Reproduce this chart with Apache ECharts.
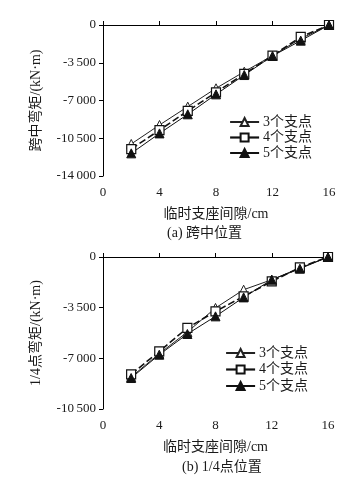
<!DOCTYPE html>
<html><head><meta charset="utf-8">
<script src="https://cdn.jsdelivr.net/npm/echarts@6/dist/echarts.min.js"></script>
<style>html,body{margin:0;padding:0;background:#fff}#c{width:340px;height:480px}</style>
</head><body><div id="c"></div>
<script>
const gaps = [2, 4, 6, 8, 10, 12, 14, 16];
const seriesNames = ['3个支点', '4个支点', '5个支点'];
// (a) 跨中位置
const midS3 = [-11030, -9270, -7570, -5870, -4330, -2840, -1270, 0];
const midS4 = [-11500, -9740, -7970, -6240, -4540, -2840, -1110, 0];
const midS5 = [-11900, -10050, -8280, -6430, -4640, -2870, -1450, 0];
// (b) 1/4点位置
const qS3 = [-8290, -6680, -5180, -3520, -2260, -1570, -760, 0];
const qS4 = [-8110, -6520, -4900, -3760, -2720, -1690, -720, 0];
const qS5 = [-8360, -6750, -5320, -4100, -2790, -1570, -810, 0];
const xTicks = [0, 4, 8, 12, 16];
const yTicksTop = [0, -3500, -7000, -10500, -14000];
const yTicksBot = [0, -3500, -7000, -10500];

const serif = '"Liberation Serif","Times New Roman","Noto Sans CJK SC",serif';
const txt = '#1a1a1a';
const fmtY = v => {
  const s = String(Math.abs(v));
  const t = s.length > 3 ? s.slice(0, s.length - 3) + '\u2009' + s.slice(-3) : s;
  return (v < 0 ? '-' : '') + t;
};
function xAxis(gi){
  return {gridIndex: gi, type:'value', min:xTicks[0], max:xTicks[xTicks.length-1], interval:4,
    name:'临时支座间隙/cm', nameLocation:'middle', nameGap:31,
    nameTextStyle:{fontFamily:serif, fontSize:14, color:txt},
    axisLine:{lineStyle:{color:'#000', width:1}},
    axisTick:{inside:true, length:4, lineStyle:{color:'#000'}},
    axisLabel:{fontFamily:serif, fontSize:13, color:txt, margin:10},
    splitLine:{show:false}};
}
function yAxis(gi, ticks, name){
  return {gridIndex: gi, type:'value', min:ticks[ticks.length-1], max:ticks[0], interval:3500,
    name:name, nameLocation:'middle', nameGap:60, nameRotate:90,
    nameTextStyle:{fontFamily:serif, fontSize:14, color:txt},
    axisLine:{show:true, lineStyle:{color:'#000', width:1}},
    axisTick:{show:true, length:4, lineStyle:{color:'#000'}},
    axisLabel:{fontFamily:serif, fontSize:13, color:txt, margin:7, formatter:fmtY},
    splitLine:{show:false}};
}
function mk(name, data, gi){
  const pts = gaps.map((g,i)=>[g, data[i]]);
  const base = {name:name, type:'line', xAxisIndex:gi, yAxisIndex:gi, data:pts, animation:false, symbolSize:9, z: 3};
  if (name === '3个支点') return Object.assign(base, {symbol:'triangle', lineStyle:{color:'#222', width:1}, itemStyle:{color:'#fff', borderColor:'#222', borderWidth:1}});
  if (name === '4个支点') return Object.assign(base, {symbol:'rect', symbolSize:9, lineStyle:{color:'#111', width:1.6, type:[7,3]}, itemStyle:{color:'#fff', borderColor:'#111', borderWidth:1.2}});
  return Object.assign(base, {symbol:'triangle', lineStyle:{color:'#111', width:1}, itemStyle:{color:'#111', borderColor:'#111', borderWidth:1}});
}
const legendData = seriesNames.map(n => n === '4个支点' ? {name:n, lineStyle:{type:'solid', width:2.2}} : {name:n});
const legendCommon = {orient:'vertical', itemWidth:29, itemHeight:10, padding:0,
  textStyle:{fontFamily:serif, fontSize:14, color:txt, padding:[0,0,0,-1]}, data:legendData, selectedMode:false};
const chart = echarts.init(document.getElementById('c'), null, {renderer:'canvas'});
chart.setOption({
  backgroundColor:'#fff',
  animation:false,
  grid:[{left:103, top:25, width:226, height:151}, {left:103, top:257, width:225, height:152}],
  xAxis:[xAxis(0), xAxis(1)],
  yAxis:[yAxis(0, yTicksTop, '跨中弯矩/(kN·m)'), yAxis(1, yTicksBot, '1/4点弯矩/(kN·m)')],
  legend:[Object.assign({}, legendCommon, {left:229, top:115, itemGap:1.5}), Object.assign({}, legendCommon, {left:225, top:346, itemGap:2.5})],
  series:[mk('3个支点', midS3, 0), mk('4个支点', midS4, 0), mk('5个支点', midS5, 0),
          mk('3个支点', qS3, 1), mk('4个支点', qS4, 1), mk('5个支点', qS5, 1)],
  graphic:[
    {type:'text', left:167, top:226, style:{text:'(a) 跨中位置', font:'14px ' + serif, fill:txt}},
    {type:'text', left:182, top:460, style:{text:'(b) 1/4点位置', font:'14px ' + serif, fill:txt}}
  ]
});
</script></body></html>
